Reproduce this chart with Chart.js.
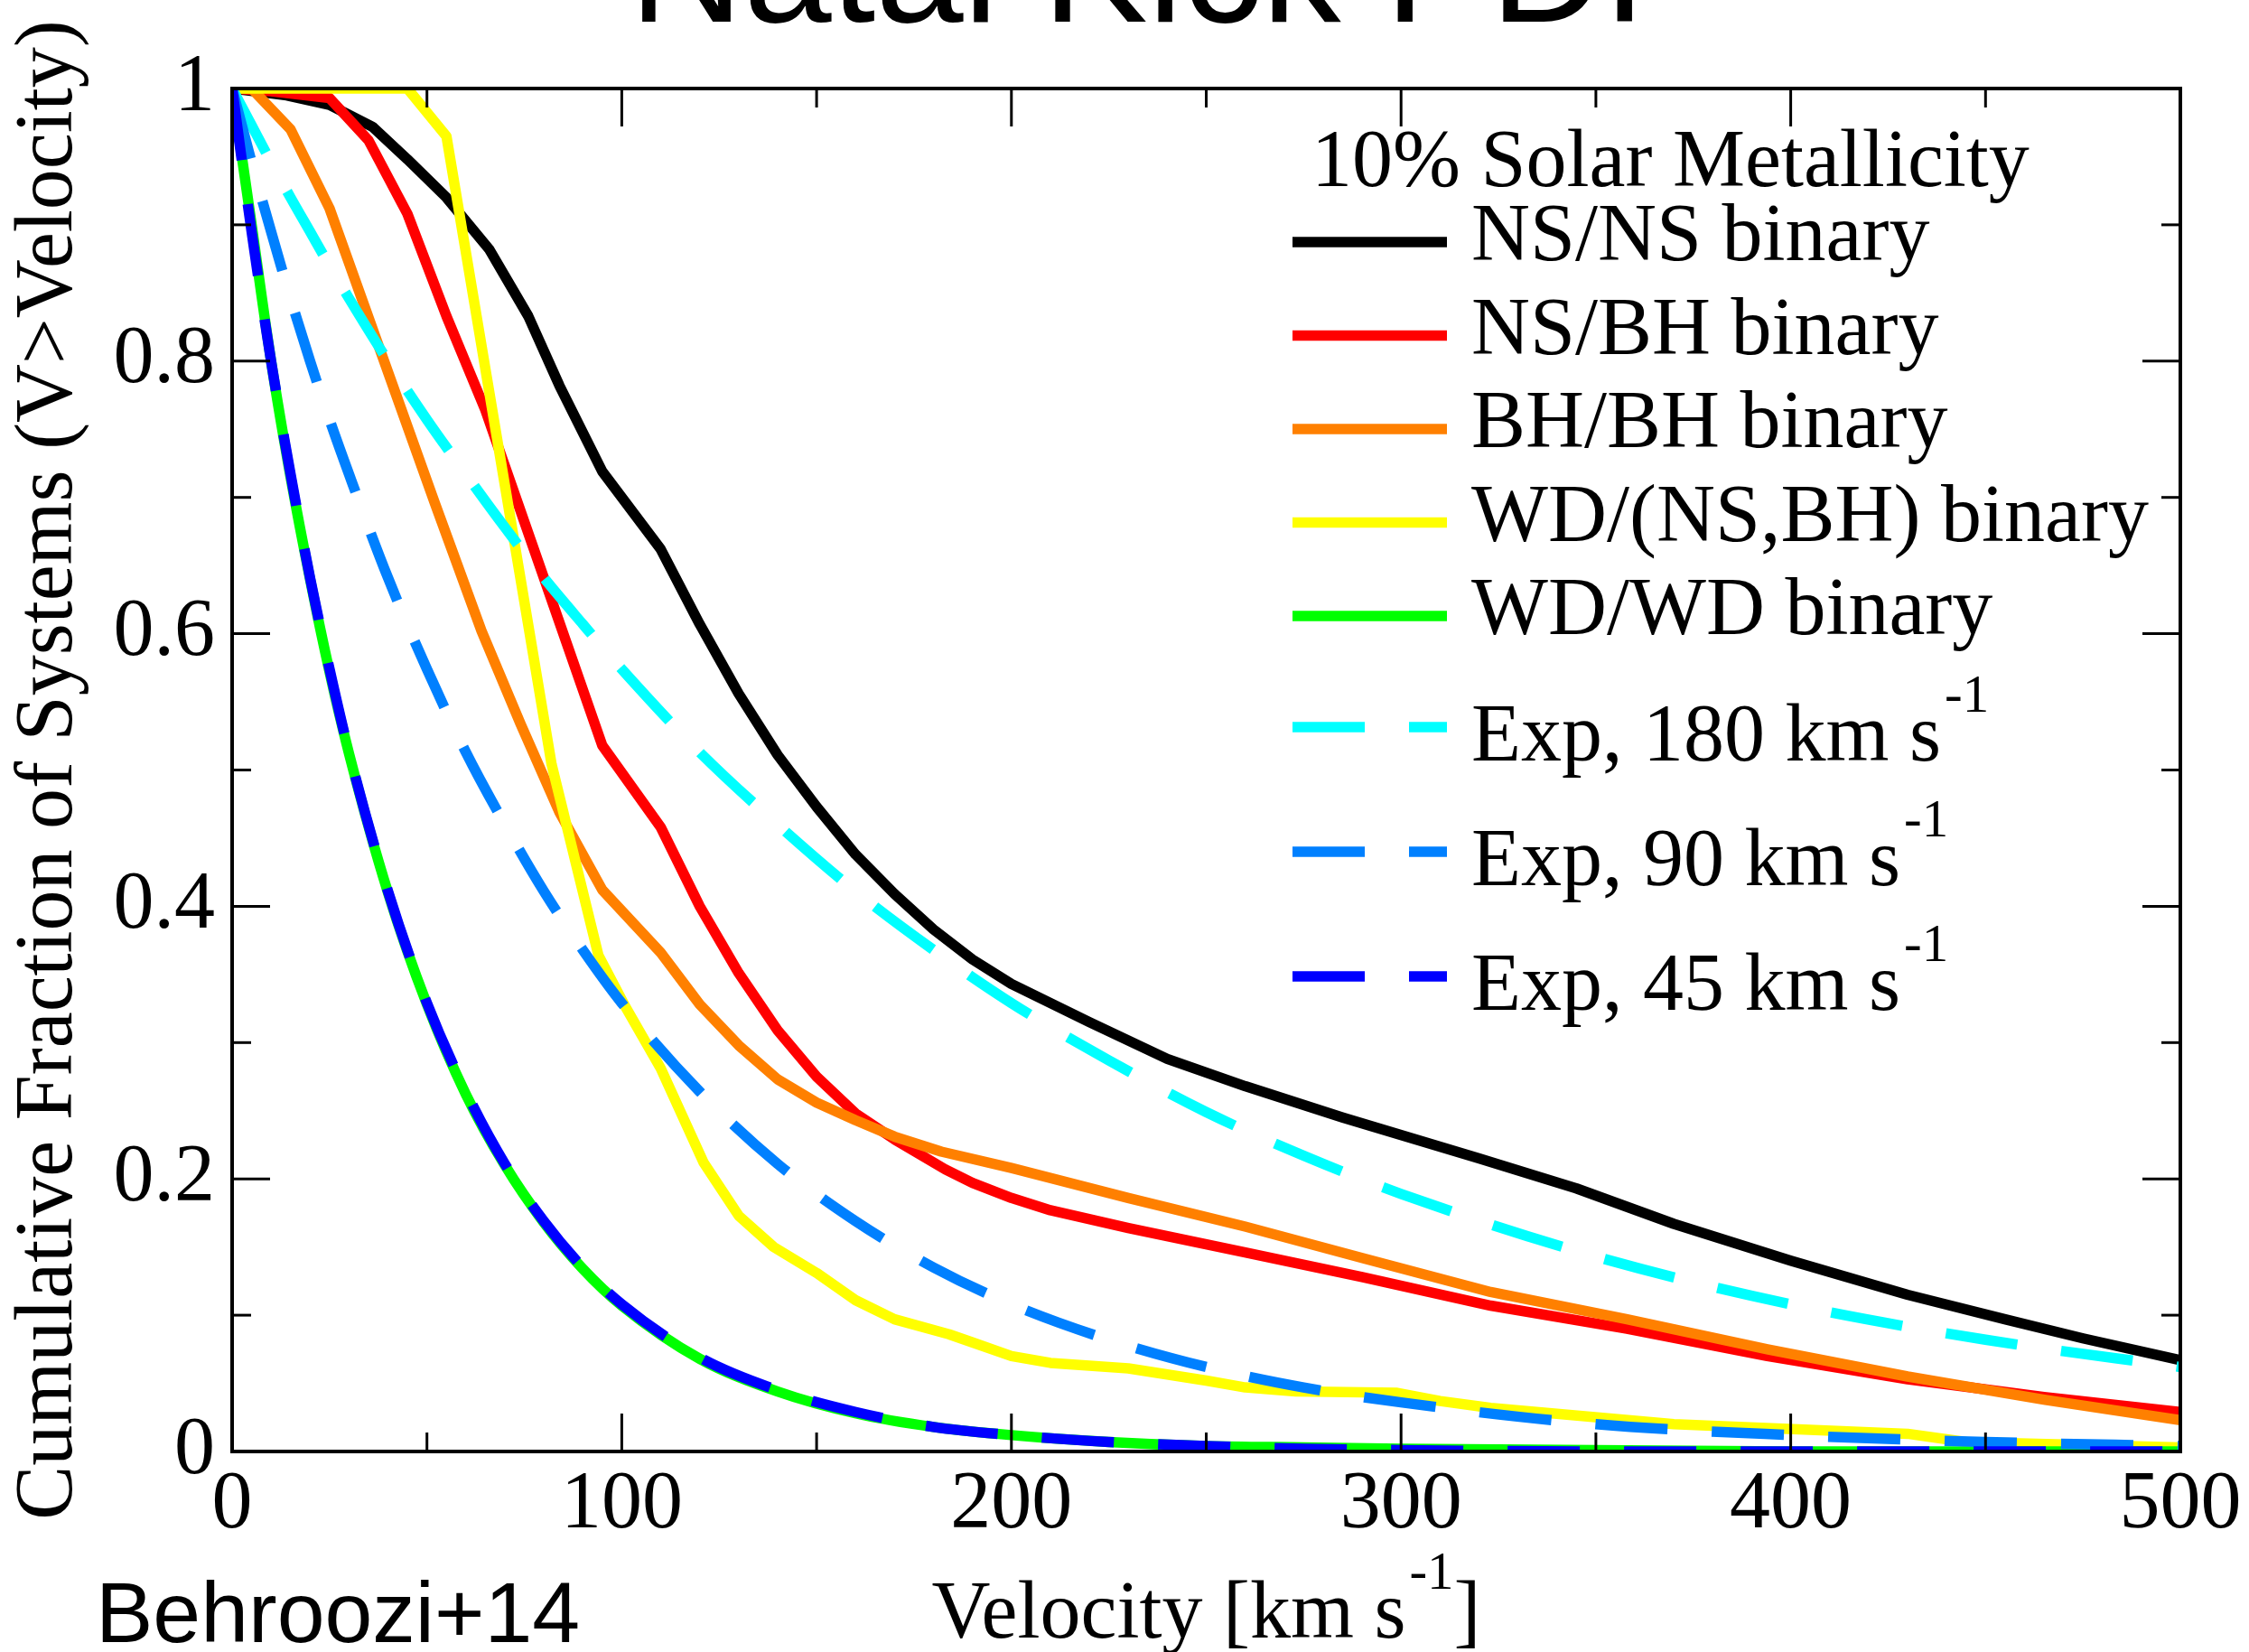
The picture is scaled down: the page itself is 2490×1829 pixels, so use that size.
<!DOCTYPE html>
<html>
<head>
<meta charset="utf-8">
<title>Natal Kick PDF</title>
<script src="https://cdn.jsdelivr.net/npm/chart.js@4.4.1/dist/chart.umd.min.js"></script>
<style>
  html, body { margin: 0; padding: 0; background: #fff; }
  canvas { display: block; }
</style>
</head>
<body>
<canvas id="chart" width="2490" height="1829"></canvas>
<script>
// Cumulative fraction of systems with V > velocity

const nsnsVel = [0, 14, 25, 36, 45, 55, 66, 76, 84, 95, 110, 120, 130, 140, 150, 160, 170, 180, 190, 200, 220, 240, 260, 285, 320, 345, 370, 400, 430, 455, 475, 500];
const nsnsFrac = [1.0, 0.995, 0.988, 0.972, 0.948, 0.92, 0.882, 0.833, 0.782, 0.719, 0.662, 0.607, 0.556, 0.511, 0.473, 0.438, 0.409, 0.383, 0.361, 0.343, 0.315, 0.288, 0.268, 0.245, 0.215, 0.193, 0.167, 0.140, 0.115, 0.097, 0.083, 0.067];

const nsbhVel = [0, 10, 25, 35, 45, 55, 65, 80, 95, 110, 120, 130, 140, 150, 160, 170, 183, 190, 200, 210, 230, 260, 290, 323, 358, 394, 430, 465, 500];
const nsbhFrac = [1.0, 0.998, 0.993, 0.962, 0.908, 0.833, 0.764, 0.641, 0.518, 0.458, 0.400, 0.351, 0.309, 0.275, 0.248, 0.229, 0.207, 0.197, 0.186, 0.177, 0.164, 0.146, 0.128, 0.107, 0.090, 0.070, 0.053, 0.040, 0.029];

const bhbhVel = [0, 5, 15, 25, 38, 52, 64, 74, 84, 95, 110, 120, 130, 140, 150, 160, 170, 182, 200, 230, 260, 290, 323, 358, 394, 430, 465, 500];
const bhbhFrac = [1.0, 1.0, 0.970, 0.912, 0.808, 0.696, 0.602, 0.534, 0.469, 0.412, 0.366, 0.328, 0.298, 0.273, 0.256, 0.243, 0.231, 0.220, 0.208, 0.186, 0.165, 0.142, 0.117, 0.097, 0.075, 0.055, 0.038, 0.023];

const wdnsVel = [0, 5, 45, 55, 82, 94, 101, 110, 121, 130, 139, 150, 160, 170, 184, 190, 200, 210, 230, 250, 260, 273, 299, 310, 323, 370, 430, 445, 500];
const wdnsFrac = [1.0, 1.0, 1.0, 0.965, 0.504, 0.364, 0.326, 0.281, 0.212, 0.173, 0.150, 0.131, 0.111, 0.097, 0.086, 0.080, 0.070, 0.065, 0.061, 0.052, 0.047, 0.044, 0.043, 0.037, 0.032, 0.020, 0.013, 0.007, 0.003];

// WD/WD and the exponential reference curves share one velocity grid
const smoothVel = [0, 5, 10, 15, 20, 25, 30, 40, 50, 60, 70, 80, 90, 100, 120, 140, 160, 180, 200, 225, 250, 275, 300, 350, 400, 450, 500];
const wdwdFrac = [1.0, 0.90, 0.80, 0.715, 0.64, 0.572, 0.512, 0.41, 0.328, 0.262, 0.21, 0.168, 0.134, 0.107, 0.068, 0.044, 0.028, 0.018, 0.012, 0.007, 0.004, 0.003, 0.002, 0.001, 0.0, 0.0, 0.0];
const exp180Frac = [1.0, 0.973, 0.946, 0.92, 0.895, 0.87, 0.846, 0.80, 0.757, 0.717, 0.678, 0.641, 0.607, 0.574, 0.513, 0.46, 0.411, 0.368, 0.329, 0.287, 0.249, 0.217, 0.189, 0.143, 0.108, 0.082, 0.062];
const exp90Frac = [1.0, 0.946, 0.895, 0.846, 0.80, 0.757, 0.717, 0.641, 0.574, 0.513, 0.46, 0.411, 0.368, 0.329, 0.264, 0.211, 0.169, 0.135, 0.108, 0.082, 0.062, 0.047, 0.036, 0.020, 0.012, 0.007, 0.004];
const exp45Frac = [1.0, 0.895, 0.80, 0.717, 0.641, 0.574, 0.513, 0.411, 0.329, 0.264, 0.211, 0.169, 0.135, 0.108, 0.069, 0.045, 0.029, 0.018, 0.012, 0.007, 0.004, 0.002, 0.001, 0.0, 0.0, 0.0, 0.0];

const seriesLabels = ['NS/NS binary', 'NS/BH binary', 'BH/BH binary', 'WD/(NS,BH) binary', 'WD/WD binary',
    'Exp, 180 km s^{-1}', 'Exp, 90 km s^{-1}', 'Exp, 45 km s^{-1}'];
const xTicks = [0, 100, 200, 300, 400, 500];
const yTicks = [0, 0.2, 0.4, 0.6, 0.8, 1];

const SERIF = "'Liberation Serif', 'Times New Roman', serif";
const SANS = "'Liberation Sans', Arial, sans-serif";
const DASH = [80, 49];
const LINE_W = 11.5;

function pairs(vel, frac) {
    return vel.map((v, i) => ({ x: v, y: frac[i] }));
}

const seriesData = [
    pairs(nsnsVel, nsnsFrac),
    pairs(nsbhVel, nsbhFrac),
    pairs(bhbhVel, bhbhFrac),
    pairs(wdnsVel, wdnsFrac),
    pairs(smoothVel, wdwdFrac),
    pairs(smoothVel, exp180Frac),
    pairs(smoothVel, exp90Frac),
    pairs(smoothVel, exp45Frac)
];
const seriesColors = ['#000000', '#ff0000', '#ff8000', '#ffff00', '#00ff00', '#00ffff', '#0080ff', '#0000ff'];

const datasets = seriesData.map((data, i) => {
    const smooth = i >= 4;
    const dashed = i >= 5;
    return {
        label: seriesLabels[i],
        data,
        borderColor: seriesColors[i],
        backgroundColor: seriesColors[i],
        borderWidth: LINE_W,
        borderDash: dashed ? DASH : [],
        borderCapStyle: 'butt',
        borderJoinStyle: 'round',
        cubicInterpolationMode: smooth ? 'monotone' : 'default',
        tension: 0,
        pointRadius: 0,
        fill: false,
        order: seriesData.length - i // later sets sit on top, as in the original
    };
});

// draw "text^{sup}more" with a raised, smaller superscript
function richParts(text) {
    const out = [];
    const re = /\^\{([^}]*)\}/g;
    let last = 0, m;
    while ((m = re.exec(text)) !== null) {
        if (m.index > last) out.push({ t: text.slice(last, m.index), sup: false });
        out.push({ t: m[1], sup: true });
        last = re.lastIndex;
    }
    if (last < text.length) out.push({ t: text.slice(last), sup: false });
    return out;
}

function richWidth(ctx, text, size) {
    let w = 0;
    richParts(text).forEach(p => {
        ctx.font = `${p.sup ? Math.round(size * 0.66) : size}px ${SERIF}`;
        w += ctx.measureText(p.t).width + (p.sup ? 4 : 0);
    });
    return w;
}

function drawRich(ctx, text, x, y, size) {
    ctx.textAlign = 'left';
    ctx.textBaseline = 'alphabetic';
    let cx = x;
    richParts(text).forEach(p => {
        if (p.sup) {
            ctx.font = `${Math.round(size * 0.66)}px ${SERIF}`;
            cx += 4;
            ctx.fillText(p.t, cx, y - size * 0.6);
        } else {
            ctx.font = `${size}px ${SERIF}`;
            ctx.fillText(p.t, cx, y);
        }
        cx += ctx.measureText(p.t).width;
    });
}

const framePlugin = {
    id: 'frame',
    afterDatasetsDraw(chart) {
        const { ctx, chartArea: a, scales: { x, y } } = chart;
        ctx.save();
        ctx.strokeStyle = '#000';
        ctx.lineCap = 'butt';
        ctx.lineWidth = 3;
        const seg = (x0, y0, x1, y1) => {
            ctx.beginPath();
            ctx.moveTo(x0, y0);
            ctx.lineTo(x1, y1);
            ctx.stroke();
        };
        // inward major + minor ticks on all four sides
        for (let i = 0; i < xTicks.length; i++) {
            const px = x.getPixelForValue(xTicks[i]);
            seg(px, a.bottom, px, a.bottom - 42);
            seg(px, a.top, px, a.top + 42);
            if (i < xTicks.length - 1) {
                const mx = x.getPixelForValue((xTicks[i] + xTicks[i + 1]) / 2);
                seg(mx, a.bottom, mx, a.bottom - 21);
                seg(mx, a.top, mx, a.top + 21);
            }
        }
        for (let i = 0; i < yTicks.length; i++) {
            const py = y.getPixelForValue(yTicks[i]);
            seg(a.left, py, a.left + 42, py);
            seg(a.right, py, a.right - 42, py);
            if (i < yTicks.length - 1) {
                const my = y.getPixelForValue((yTicks[i] + yTicks[i + 1]) / 2);
                seg(a.left, my, a.left + 21, my);
                seg(a.right, my, a.right - 21, my);
            }
        }
        ctx.lineWidth = 4;
        ctx.strokeRect(a.left, a.top, a.right - a.left, a.bottom - a.top);
        ctx.restore();
    }
};

const textPlugin = {
    id: 'texts',
    afterDraw(chart) {
        const { ctx, chartArea: a } = chart;
        ctx.save();
        ctx.fillStyle = '#000';

        // title, cut off at the top edge as in the original
        ctx.font = `175px ${SANS}`;
        ctx.textAlign = 'center';
        ctx.textBaseline = 'alphabetic';
        ctx.fillText('Natal Kick PDF', 1290, 24);

        ctx.font = `95px ${SANS}`;
        ctx.textAlign = 'left';
        ctx.fillText('Behroozi+14', 106, 1818);

        // x axis title with superscript
        const xTitle = 'Velocity [km s^{-1}]';
        const w = richWidth(ctx, xTitle, 90);
        drawRich(ctx, xTitle, (a.left + a.right) / 2 - w / 2, 1813, 90);

        // legend
        ctx.font = `90px ${SERIF}`;
        ctx.textAlign = 'left';
        ctx.fillText('10% Solar Metallicity', 1452, 206);

        const x0 = 1431, x1 = 1602, tx = 1629;
        let rowY = 268;
        chart.data.datasets.forEach((ds, i) => {
            const sup = ds.label.includes('^');
            if (i > 0) {
                const prevSup = chart.data.datasets[i - 1].label.includes('^');
                rowY += sup ? (prevSup ? 138 : 123) : 103.5;
            }
            ctx.save();
            ctx.strokeStyle = ds.borderColor;
            ctx.lineWidth = LINE_W;
            ctx.lineCap = 'butt';
            ctx.setLineDash(ds.borderDash || []);
            ctx.beginPath();
            ctx.moveTo(x0, rowY);
            ctx.lineTo(x1, rowY);
            ctx.stroke();
            ctx.restore();
            drawRich(ctx, ds.label, tx, rowY + (sup ? 37 : 20), 90);
        });
        ctx.restore();
    }
};

new Chart(document.getElementById('chart'), {
    type: 'line',
    data: { datasets },
    options: {
        responsive: false,
        devicePixelRatio: 1,
        animation: false,
        layout: { padding: { top: 98, right: 76, left: 0, bottom: 0 } },
        plugins: {
            legend: { display: false },
            tooltip: { enabled: false },
            title: { display: false }
        },
        scales: {
            x: {
                type: 'linear',
                min: 0,
                max: 500,
                afterFit: (scale) => { scale.height = 222; },
                afterBuildTicks: (scale) => { scale.ticks = xTicks.map(v => ({ value: v })); },
                grid: { display: false, drawTicks: false },
                border: { display: false },
                ticks: {
                    padding: 6,
                    color: '#000',
                    maxRotation: 0,
                    autoSkip: false,
                    callback: (v) => String(v),
                    font: { family: SERIF, size: 90 }
                }
            },
            y: {
                type: 'linear',
                min: 0,
                max: 1,
                afterFit: (scale) => { scale.width = 257; },
                afterBuildTicks: (scale) => { scale.ticks = yTicks.map(v => ({ value: v })); },
                grid: { display: false, drawTicks: false },
                border: { display: false },
                title: {
                    display: true,
                    text: 'Cumulative Fraction of Systems (V>Velocity)',
                    color: '#000',
                    padding: { top: 1, bottom: 0 },
                    font: { family: SERIF, size: 90 }
                },
                ticks: {
                    padding: 19,
                    color: '#000',
                    autoSkip: false,
                    callback: (v) => String(v),
                    font: { family: SERIF, size: 90 }
                }
            }
        }
    },
    plugins: [framePlugin, textPlugin]
});
</script>
</body>
</html>
